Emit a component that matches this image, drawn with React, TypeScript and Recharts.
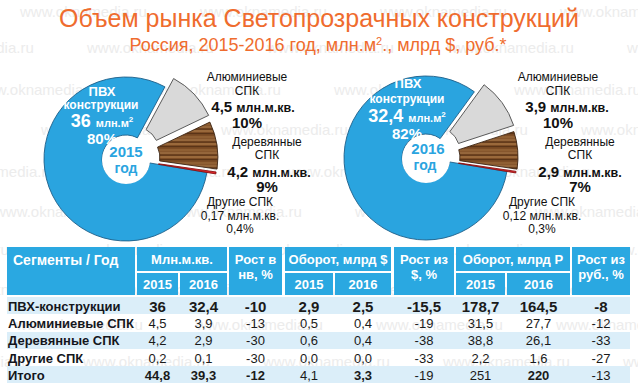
import React from 'react';
import { PieChart, Pie, Cell } from 'recharts';

const FONT = '"Liberation Sans", Arial, Helvetica, sans-serif';

// ---------- pie data ----------
const pieSegments = ['ПВХ конструкции', 'Алюминиевые СПК', 'Деревянные СПК', 'Другие СПК'];
const volume2015 = [36, 4.5, 4.2, 0.17];
const volume2016 = [32.4, 3.9, 2.9, 0.12];
const volumeLabels2015 = ['36', '4,5', '4,2', '0,17'];
const volumeLabels2016 = ['32,4', '3,9', '2,9', '0,12'];
const shareLabels2015 = ['80%', '10%', '9%', '0,4%'];
const shareLabels2016 = ['82%', '10%', '7%', '0,3%'];
const years = ['2015', '2016'];

// ---------- table data ----------
const tableSegments = ['ПВХ-конструкции', 'Алюминиевые СПК', 'Деревянные СПК', 'Другие СПК', 'Итого'];
const m2_2015 = ['36', '4,5', '4,2', '0,2', '44,8'];
const m2_2016 = ['32,4', '3,9', '2,9', '0,1', '39,3'];
const growthM2 = ['-10', '-13', '-30', '-30', '-12'];
const usd2015 = ['2,9', '0,5', '0,6', '0,0', '4,1'];
const usd2016 = ['2,5', '0,4', '0,4', '0,0', '3,3'];
const growthUsd = ['-15,5', '-19', '-38', '-33', '-19'];
const rub2015 = ['178,7', '31,5', '38,8', '2,2', '251'];
const rub2016 = ['164,5', '27,7', '26,1', '1,6', '220'];
const growthRub = ['-8', '-12', '-33', '-27', '-13'];

// ---------- styling ----------
const BLUE = '#2aa4df';
const ORANGE = '#ef6c2e';
const sliceFill = [BLUE, '#d9d9d9', 'url(#wood)', '#e3252b'];
const sliceStroke = ['#1f5f88', '#4a4a4a', '#3b2412', '#8a1212'];
const explode = [0, 12, 10, 9];
const R_IN = 24;
const R_OUT = 82;
const START = -9.5;

const pieCenters = [
  { cx: 126, cy: 159 },
  { cx: 426, cy: 158 },
];

function explodedPies(values: number[], cx: number, cy: number, key: string) {
  const total = values.reduce((a, b) => a + b, 0);
  const data = values.map((v, i) => ({ name: pieSegments[i], value: v }));
  let acc = START;
  return values.map((v, i) => {
    const span = (-360 * v) / total;
    const mid = acc + span / 2;
    acc += span;
    const rad = (-mid * Math.PI) / 180;
    const dx = explode[i] * Math.cos(rad);
    const dy = explode[i] * Math.sin(rad);
    return (
      <Pie
        key={key + i}
        data={data}
        dataKey="value"
        nameKey="name"
        cx={cx + dx}
        cy={cy + dy}
        innerRadius={R_IN}
        outerRadius={R_OUT}
        startAngle={START}
        endAngle={START - 360}
        isAnimationActive={false}
        label={false}
        labelLine={false}
      >
        {data.map((d, j) => (
          <Cell
            key={j}
            fill={j === i ? sliceFill[j] : 'none'}
            stroke={j === i ? sliceStroke[j] : 'none'}
            strokeWidth={j === i ? 0.9 : 0}
          />
        ))}
      </Pie>
    );
  });
}

type TProps = {
  x: number;
  y: number;
  size?: number;
  bold?: boolean;
  color?: string;
  children: React.ReactNode;
  align?: 'center' | 'left';
};
const T = ({ x, y, size = 12, bold = false, color = '#111', children, align = 'center' }: TProps) => (
  <div
    style={{
      position: 'absolute',
      left: x,
      top: y,
      transform: align === 'center' ? 'translate(-50%, -50%)' : 'translate(0, -50%)',
      fontSize: size,
      fontWeight: bold ? 700 : 400,
      color,
      whiteSpace: 'nowrap',
      lineHeight: 1,
      fontFamily: FONT,
    }}
  >
    {children}
  </div>
);

const Box = ({
  x1,
  x2,
  y1,
  y2,
  bg,
  children,
}: {
  x1: number;
  x2: number;
  y1: number;
  y2: number;
  bg: string;
  children?: React.ReactNode;
}) => (
  <div
    style={{
      position: 'absolute',
      left: x1,
      top: y1,
      width: x2 - x1,
      height: y2 - y1,
      background: bg,
    }}
  >
    {children}
  </div>
);

const colX: [number, number][] = [
  [7, 135],
  [137, 178],
  [180, 227],
  [229, 282],
  [285, 333],
  [335, 391],
  [394, 454],
  [456, 505],
  [507, 570],
  [572, 630],
];
const rowTop = [297, 314.3, 331.6, 348.9, 366.2];
const ROW_H = 17.3;
const HEAD_BLUE = '#2aa8e1';
const BAND = '#dbeef9';
const totalBold = [true, true, true, false, true, false, false, true, false];

const rightLabels = [
  { alu: 247, aluNum: 253, wood: 267, woodNum: 269, other: 240 },
  { alu: 558, aluNum: 567, wood: 580, woodNum: 580, other: 542 },
];

const watermarkRows = [12, 48, 90, 130, 172, 212, 250, 290, 325, 362];

export default function App() {
  const cols = [m2_2015, m2_2016, growthM2, usd2015, usd2016, growthUsd, rub2015, rub2016, growthRub];
  const vols = [volumeLabels2015, volumeLabels2016];
  const shares = [shareLabels2015, shareLabels2016];

  return (
    <div
      style={{
        position: 'absolute',
        left: 0,
        top: 0,
        width: 638,
        height: 383,
        overflow: 'hidden',
        background: '#fff',
        fontFamily: FONT,
      }}
    >
      {/* watermark (beneath everything, very faint) */}
      {watermarkRows.map((y, k) =>
        [0, 1, 2, 3, 4].map((n) => (
          <div
            key={'wm' + k + '_' + n}
            style={{
              position: 'absolute',
              left: ((k * 67) % 180) - 160 + n * 180,
              top: y - 8,
              fontSize: 15,
              color: '#ececec',
              whiteSpace: 'nowrap',
              fontFamily: FONT,
              lineHeight: 1,
            }}
          >
            www.oknamedia.ru
          </div>
        ))
      )}

      {/* Titles */}
      <T x={319} y={18} size={25} color={ORANGE}>
        Объем рынка Светопрозрачных конструкций
      </T>
      <T x={318} y={45} size={18} color={ORANGE}>
        Россия, 2015-2016 год, млн.м<sup style={{ fontSize: 11, verticalAlign: 6 }}>2</sup>., млрд $, руб.*
      </T>

      {/* Pies */}
      <div style={{ position: 'absolute', left: 0, top: 0 }}>
        <PieChart width={638} height={383} margin={{ top: 0, right: 0, bottom: 0, left: 0 }}>
          <defs>
            <pattern id="wood" patternUnits="userSpaceOnUse" width="80" height="13">
              <rect x="0" y="0" width="80" height="13" fill="#7d4d26" />
              <rect x="0" y="0" width="80" height="2" fill="#9a693b" />
              <rect x="0" y="3" width="80" height="1.2" fill="#5a3417" />
              <rect x="0" y="6" width="80" height="2.5" fill="#8f5f33" />
              <rect x="0" y="9.5" width="80" height="1" fill="#ad7e4f" />
              <rect x="0" y="11.5" width="80" height="1.2" fill="#5a3417" />
            </pattern>
          </defs>
          {explodedPies(volume2015, pieCenters[0].cx, pieCenters[0].cy, 'a')}
          {explodedPies(volume2016, pieCenters[1].cx, pieCenters[1].cy, 'b')}
        </PieChart>
      </div>

      {/* Pie 2015 inner labels */}
      <T x={102} y={91} size={13} bold color="#fff">ПВХ</T>
      <T x={101} y={105} size={12} bold color="#fff">конструкции</T>
      <T x={102} y={121} bold color="#fff" size={18}>
        {vols[0][0]} <span style={{ fontSize: 11 }}>млн.м<sup style={{ fontSize: 8 }}>2</sup></span>
      </T>
      <T x={102} y={138} size={15} bold color="#fff">{shares[0][0]}</T>

      {/* Pie 2016 inner labels */}
      <T x={408} y={83} size={13} bold color="#fff">ПВХ</T>
      <T x={407} y={99} size={12} bold color="#fff">конструкции</T>
      <T x={407} y={116} bold color="#fff" size={18}>
        {vols[1][0]} <span style={{ fontSize: 11 }}>млн.м<sup style={{ fontSize: 8 }}>2</sup></span>
      </T>
      <T x={407} y={133} size={15} bold color="#fff">{shares[1][0]}</T>

      {/* holes and year labels */}
      {pieCenters.map((c, i) => (
        <div
          key={'hole' + i}
          style={{
            position: 'absolute',
            left: c.cx - R_IN,
            top: c.cy - R_IN + 1,
            width: R_IN * 2,
            height: R_IN * 2,
            borderRadius: '50%',
            background: '#fff',
          }}
        />
      ))}
      <T x={126} y={151} size={15} bold color={BLUE}>{years[0]}</T>
      <T x={126} y={168} size={14} bold color={BLUE}>год</T>
      <T x={428} y={148} size={15} bold color={BLUE}>{years[1]}</T>
      <T x={425} y={165} size={14} bold color={BLUE}>год</T>

      {/* right labels */}
      {rightLabels.map((p, i) => (
        <React.Fragment key={'rl' + i}>
          <T x={p.alu} y={77} size={12}>Алюминиевые</T>
          <T x={p.alu} y={91} size={12}>СПК</T>
          <T x={p.aluNum} y={107} size={15} bold>
            {vols[i][1]} <span style={{ fontSize: 12.5 }}>млн.м.кв.</span>
          </T>
          <T x={p.alu} y={122} size={15} bold>{shares[i][1]}</T>
          <T x={p.wood} y={142} size={12}>Деревянные</T>
          <T x={p.wood} y={155} size={12}>СПК</T>
          <T x={p.woodNum} y={172} size={15} bold>
            {vols[i][2]} <span style={{ fontSize: 12.5 }}>млн.м.кв.</span>
          </T>
          <T x={p.wood} y={186} size={15} bold>{shares[i][2]}</T>
          <T x={p.other} y={202} size={12}>Другие СПК</T>
          <T x={p.other} y={216} size={12}>{vols[i][3]} млн.м.кв.</T>
          <T x={p.other} y={229} size={12}>{shares[i][3]}</T>
        </React.Fragment>
      ))}

      {/* Table header */}
      <Box x1={colX[0][0]} x2={colX[0][1]} y1={247} y2={295} bg={HEAD_BLUE}>
        <T x={6} y={13} size={14} bold color="#fff" align="left">Сегменты / Год</T>
      </Box>
      {[
        { c: [1, 2], t: 'Млн.м.кв.' },
        { c: [4, 5], t: 'Оборот, млрд $' },
        { c: [7, 8], t: 'Оборот, млрд Р' },
      ].map((g, k) => (
        <React.Fragment key={'g' + k}>
          <Box x1={colX[g.c[0]][0]} x2={colX[g.c[1]][1]} y1={247} y2={271} bg={HEAD_BLUE}>
            <T x={(colX[g.c[1]][1] - colX[g.c[0]][0]) / 2} y={12} size={13} bold color="#fff">{g.t}</T>
          </Box>
          {g.c.map((ci, n) => (
            <Box key={ci} x1={colX[ci][0]} x2={colX[ci][1]} y1={273} y2={295} bg={HEAD_BLUE}>
              <T x={(colX[ci][1] - colX[ci][0]) / 2} y={11} size={13} bold color="#fff">{years[n]}</T>
            </Box>
          ))}
        </React.Fragment>
      ))}
      {[
        { c: 3, a: 'Рост в', b: 'нв, %' },
        { c: 6, a: 'Рост из', b: '$, %' },
        { c: 9, a: 'Рост из', b: 'руб., %' },
      ].map((g) => (
        <Box key={'gr' + g.c} x1={colX[g.c][0]} x2={colX[g.c][1]} y1={247} y2={295} bg={HEAD_BLUE}>
          <T x={(colX[g.c][1] - colX[g.c][0]) / 2} y={12} size={13} bold color="#fff">{g.a}</T>
          <T x={(colX[g.c][1] - colX[g.c][0]) / 2} y={27} size={13} bold color="#fff">{g.b}</T>
        </Box>
      ))}

      {/* Table body */}
      {tableSegments.map((seg, r) => (
        <React.Fragment key={'row' + r}>
          <Box x1={7} x2={630} y1={rowTop[r]} y2={rowTop[r] + ROW_H} bg={r % 2 === 0 ? BAND : 'rgba(255,255,255,0)'} />
          <T x={8} y={rowTop[r] + ROW_H / 2} size={13} bold color="#14161c" align="left">{seg}</T>
          {cols.map((col, c) => {
            const bold = r === 0 || (r === 4 && totalBold[c]);
            return (
              <T
                key={c}
                x={(colX[c + 1][0] + colX[c + 1][1]) / 2}
                y={rowTop[r] + ROW_H / 2}
                size={r === 0 ? 15 : 13}
                bold={bold}
                color="#1a1a1a"
              >
                {col[r]}
              </T>
            );
          })}
        </React.Fragment>
      ))}
    </div>
  );
}
